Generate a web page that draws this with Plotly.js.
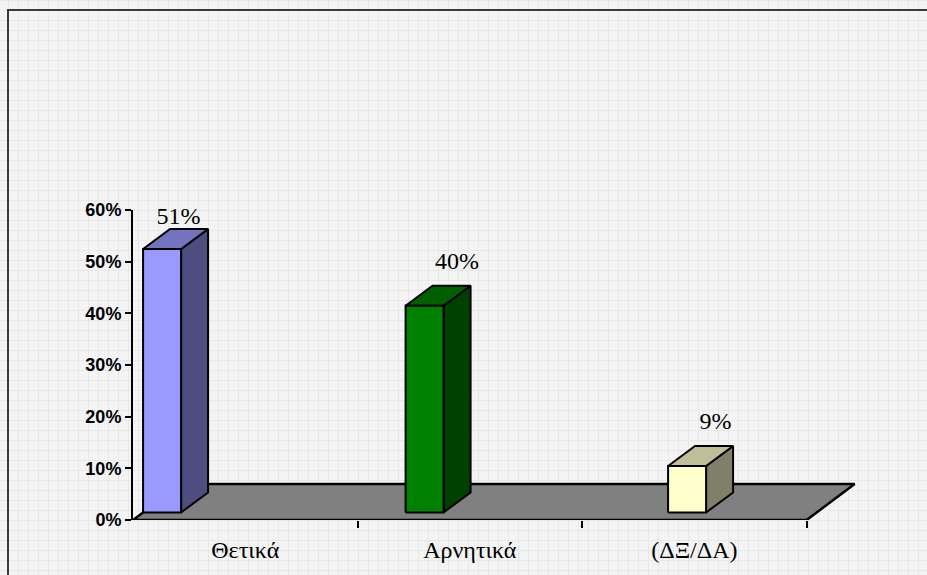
<!DOCTYPE html>
<html>
<head>
<meta charset="utf-8">
<script src="https://cdn.plot.ly/plotly-3.0.1.min.js"></script>
<style>
  html, body { margin: 0; padding: 0; }
  body {
    width: 927px; height: 575px; overflow: hidden; position: relative;
    background-color: #f4f4f4;
    background-image:
      linear-gradient(to right, #e8e8e8 1px, transparent 1px),
      linear-gradient(to bottom, #e8e8e8 1px, transparent 1px);
    background-size: 10px 10px;
    background-position: 8px 0px;
  }
  #frame {
    position: absolute; left: 7px; top: 9px; width: 1000px; height: 1000px;
    border-left: 2px solid #3a3a3a; border-top: 2px solid #3a3a3a;
  }
  #chart { position: absolute; left: 0; top: 0; width: 927px; height: 575px; }
</style>
</head>
<body>
<div id="frame"></div>
<div id="chart"></div>
<script>
// Survey answers: share of each response
const categories = ['Θετικά', 'Αρνητικά', '(ΔΞ/ΔΑ)'];
const values = [0.51, 0.40, 0.09];
const frontColors = ['#9999ff', '#008000', '#ffffcc'];
const topColors = ['#7373bf', '#006000', '#bfbf99'];
const sideColors = ['#4d4d80', '#004000', '#80806a'];
const yTickVals = [0, 0.1, 0.2, 0.3, 0.4, 0.5, 0.6];

// Plot geometry (pixels) used to turn 3-D offsets into axis units
const W = 927, H = 575;
const M = { l: 133, r: 53, t: 210, b: 55 };
const X_RANGE = [0, 3.3], Y_RANGE = [0, 0.6];
const pxPerX = (W - M.l - M.r) / (X_RANGE[1] - X_RANGE[0]);
const pxPerY = (H - M.t - M.b) / (Y_RANGE[1] - Y_RANGE[0]);
const dxu = p => p / pxPerX;
const dyu = p => p / pxPerY;

const FLOOR_DX = 48, FLOOR_DY = 36;      // floor depth
const BAR_FRONT = 0.21;                  // bar front plane, fraction of floor depth
const BAR_DX = 27, BAR_DY = 20;          // bar depth
const BAR_W = 38;                        // bar front width
const BAR_STEP = 262.5;                  // spacing between bars
const LABEL_NUDGE = [3, 19, 15];         // horizontal shift of value labels
const LABEL_LIFT = 23;                   // label centre above the back top edge

const traces = [];
const poly = (xs, ys, fill, lw) => ({
  type: 'scatter', mode: 'lines', x: xs, y: ys, fill: 'toself', fillcolor: fill,
  line: { color: '#000', width: lw || 2 }, hoverinfo: 'skip', showlegend: false
});

// floor
const n = categories.length;
const fdx = dxu(FLOOR_DX), fdy = dyu(FLOOR_DY);
traces.push(poly([0, n, n + fdx, fdx, 0], [0, 0, fdy, fdy, 0], '#808080', 2.5));

// bars: side, top, front
const labX = [], labY = [], labT = [];
values.forEach((v, i) => {
  const x0 = dxu(FLOOR_DX * BAR_FRONT + i * BAR_STEP);
  const x1 = x0 + dxu(BAR_W);
  const y0 = dyu(FLOOR_DY * BAR_FRONT);
  const y1 = y0 + v;
  const bx = dxu(BAR_DX), by = dyu(BAR_DY);
  traces.push(poly([x1, x1 + bx, x1 + bx, x1, x1], [y0, y0 + by, y1 + by, y1, y0], sideColors[i]));
  traces.push(poly([x0, x1, x1 + bx, x0 + bx, x0], [y1, y1, y1 + by, y1 + by, y1], topColors[i]));
  traces.push(poly([x0, x1, x1, x0, x0], [y0, y0, y1, y1, y0], frontColors[i]));
  labX.push((x0 + x1 + bx) / 2 + dxu(LABEL_NUDGE[i]));
  labY.push(Math.min(y1 + by + dyu(LABEL_LIFT), Y_RANGE[1] - dyu(8)));
  labT.push(Math.round(v * 100) + '%');
});

traces.push({
  type: 'scatter', mode: 'text', x: labX, y: labY, text: labT,
  textposition: 'middle center', cliponaxis: false,
  textfont: { family: 'Liberation Serif, Times New Roman, serif', size: 24, color: '#000' },
  hoverinfo: 'skip', showlegend: false
});

// second bottom axis that only carries the category boundary ticks
traces.push({ type: 'scatter', x: [0], y: [0], xaxis: 'x2', mode: 'none', hoverinfo: 'skip', showlegend: false });

const layout = {
  width: W, height: H,
  margin: M,
  paper_bgcolor: 'rgba(0,0,0,0)',
  plot_bgcolor: 'rgba(0,0,0,0)',
  showlegend: false,
  xaxis: {
    range: X_RANGE, showgrid: false, zeroline: false, showline: false,
    tickvals: categories.map((c, i) => i + 0.5), ticktext: categories,
    ticks: '', ticklabelstandoff: 13,
    tickfont: { family: 'Liberation Serif, Times New Roman, serif', size: 24, color: '#000' },
    fixedrange: true
  },
  xaxis2: {
    range: X_RANGE, overlaying: 'x', anchor: 'y', side: 'bottom',
    showgrid: false, zeroline: false, showline: false,
    tickvals: categories.map((c, i) => i + 1), showticklabels: false,
    ticks: 'outside', ticklen: 7, tickwidth: 2, tickcolor: '#000'
  },
  yaxis: {
    range: Y_RANGE, showgrid: false, zeroline: false,
    showline: true, linecolor: '#000', linewidth: 2,
    tickvals: yTickVals, tickformat: '.0%',
    ticks: 'outside', ticklen: 6, tickwidth: 2, tickcolor: '#000',
    tickfont: { family: 'Liberation Sans, Arial, sans-serif', size: 18, color: '#000', weight: 'bold' },
    fixedrange: true
  }
};

Plotly.newPlot('chart', traces, layout, { staticPlot: true, displayModeBar: false });
</script>
</body>
</html>
